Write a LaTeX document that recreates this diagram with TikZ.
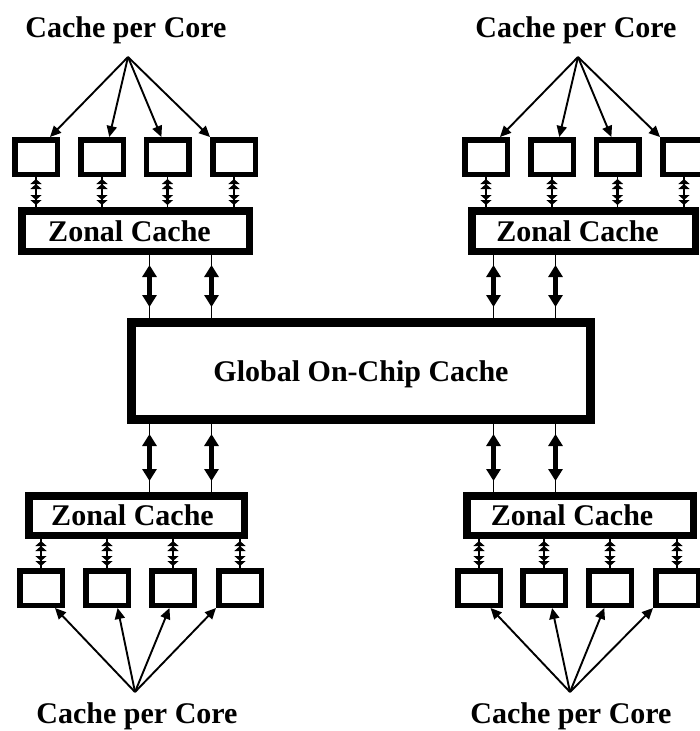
\documentclass[tikz,border=0pt]{standalone}
\usepackage{fontspec}
\setmainfont{Liberation Serif}
\usetikzlibrary{arrows.meta}
\newcommand{\boxfont}{\fontsize{30}{36}\selectfont\bfseries}
\tikzset{
  core/.style={draw, line width=5.5pt, minimum width=42.5pt, minimum height=34.5pt},
  zonal/.style={draw, line width=7.5pt, minimum height=40.5pt, font=\boxfont, text depth=0pt},
  global/.style={draw, line width=9pt, minimum width=459pt, minimum height=97pt, font=\boxfont, text depth=0pt},
  heading/.style={anchor=base, font=\boxfont},
  fan/.style={line width=1.9pt, -{Triangle[length=11pt,width=10pt]}},
  stub/.style={line width=1.2pt},
  port/.style={line width=2.5pt, shorten <=2pt, shorten >=2pt,
    {Triangle[length=5pt,width=11pt] Triangle[length=5pt,width=11pt]}-{Triangle[length=5pt,width=11pt] Triangle[length=5pt,width=11pt]}},
  bus/.style={line width=4.5pt, shorten <=10pt, shorten >=11pt,
    {Triangle[length=12pt,width=14pt]}-{Triangle[length=12pt,width=14pt]}}
}
\begin{document}
\begin{tikzpicture}[x=1pt, y=-1pt, every node/.style={inner sep=0pt}]
    \useasboundingbox (0,0) rectangle (699,731);
    \node[global] (glob) at (361,371) {Global On-Chip Cache};

    % upper left zone
    \node[heading] (tl-h) at (126,37) {Cache per Core};
    \coordinate (tl-a) at (128,57);
    \node[core] (tl-1) at (36,157) {};
    \node[core] (tl-2) at (102,157) {};
    \node[core] (tl-3) at (167.5,157) {};
    \node[core] (tl-4) at (234,157) {};
    \node[zonal, minimum width=227.5pt] (tl-z) at (135.5,231) {Zonal Cache\hspace*{12pt}};

    % upper right zone
    \node[heading] (tr-h) at (576,37) {Cache per Core};
    \coordinate (tr-a) at (578,57);
    \node[core] (tr-1) at (486,157) {};
    \node[core] (tr-2) at (552,157) {};
    \node[core] (tr-3) at (617.5,157) {};
    \node[core] (tr-4) at (684,157) {};
    \node[zonal, minimum width=223.5pt] (tr-z) at (583.5,231) {Zonal Cache\hspace*{12pt}};

    % lower left zone
    \node[zonal, minimum width=215.5pt, minimum height=39.5pt] (bl-z) at (136.5,515.5) {Zonal Cache\hspace*{8pt}};
    \node[core] (bl-1) at (41,588) {};
    \node[core] (bl-2) at (107,588) {};
    \node[core] (bl-3) at (173,588) {};
    \node[core] (bl-4) at (240,588) {};
    \coordinate (bl-a) at (135,692);
    \node[heading] (bl-h) at (137,723) {Cache per Core};

    % lower right zone
    \node[zonal, minimum width=226.5pt, minimum height=39.5pt] (br-z) at (580,515.5) {Zonal Cache\hspace*{16pt}};
    \node[core] (br-1) at (479,588) {};
    \node[core] (br-2) at (544,588) {};
    \node[core] (br-3) at (610,588) {};
    \node[core] (br-4) at (677,588) {};
    \coordinate (br-a) at (570,692);
    \node[heading] (br-h) at (571,723) {Cache per Core};

    % taps on the global cache
    \coordinate (g-n1) at ([xshift=22.5pt]glob.north west);
    \coordinate (g-n2) at ([xshift=84.5pt]glob.north west);
    \coordinate (g-n3) at ([xshift=-101.5pt]glob.north east);
    \coordinate (g-n4) at ([xshift=-39.5pt]glob.north east);
    \coordinate (g-s1) at ([xshift=22.5pt]glob.south west);
    \coordinate (g-s2) at ([xshift=84.5pt]glob.south west);
    \coordinate (g-s3) at ([xshift=-101.5pt]glob.south east);
    \coordinate (g-s4) at ([xshift=-39.5pt]glob.south east);

    \path[fan]
    (tl-a) edge (tl-1.55) edge (tl-2.70) edge (tl-3.107) edge (tl-4.north west)
    (tr-a) edge (tr-1.55) edge (tr-2.70) edge (tr-3.107) edge (tr-4.north west)
    (bl-a) edge (bl-1.-55) edge (bl-2.-62) edge (bl-3.-100) edge (bl-4.south west)
    (br-a) edge (br-1.-60) edge (br-2.-68) edge (br-3.-106) edge (br-4.south west);

    \path
    (tl-1.south) edge[stub] (tl-1.south |- tl-z.north) edge[port] (tl-1.south |- tl-z.north)
    (tl-2.south) edge[stub] (tl-2.south |- tl-z.north) edge[port] (tl-2.south |- tl-z.north)
    (tl-3.south) edge[stub] (tl-3.south |- tl-z.north) edge[port] (tl-3.south |- tl-z.north)
    (tl-4.south) edge[stub] (tl-4.south |- tl-z.north) edge[port] (tl-4.south |- tl-z.north)
    (tr-1.south) edge[stub] (tr-1.south |- tr-z.north) edge[port] (tr-1.south |- tr-z.north)
    (tr-2.south) edge[stub] (tr-2.south |- tr-z.north) edge[port] (tr-2.south |- tr-z.north)
    (tr-3.south) edge[stub] (tr-3.south |- tr-z.north) edge[port] (tr-3.south |- tr-z.north)
    (tr-4.south) edge[stub] (tr-4.south |- tr-z.north) edge[port] (tr-4.south |- tr-z.north)
    (bl-1.north) edge[stub] (bl-1.north |- bl-z.south) edge[port] (bl-1.north |- bl-z.south)
    (bl-2.north) edge[stub] (bl-2.north |- bl-z.south) edge[port] (bl-2.north |- bl-z.south)
    (bl-3.north) edge[stub] (bl-3.north |- bl-z.south) edge[port] (bl-3.north |- bl-z.south)
    (bl-4.north) edge[stub] (bl-4.north |- bl-z.south) edge[port] (bl-4.north |- bl-z.south)
    (br-1.north) edge[stub] (br-1.north |- br-z.south) edge[port] (br-1.north |- br-z.south)
    (br-2.north) edge[stub] (br-2.north |- br-z.south) edge[port] (br-2.north |- br-z.south)
    (br-3.north) edge[stub] (br-3.north |- br-z.south) edge[port] (br-3.north |- br-z.south)
    (br-4.north) edge[stub] (br-4.north |- br-z.south) edge[port] (br-4.north |- br-z.south);

    \path
    (g-n1 |- tl-z.south) edge[stub] (g-n1) edge[bus] (g-n1)
    (g-n2 |- tl-z.south) edge[stub] (g-n2) edge[bus] (g-n2)
    (g-n3 |- tr-z.south) edge[stub] (g-n3) edge[bus] (g-n3)
    (g-n4 |- tr-z.south) edge[stub] (g-n4) edge[bus] (g-n4)
    (g-s1) edge[stub] (g-s1 |- bl-z.north) edge[bus] (g-s1 |- bl-z.north)
    (g-s2) edge[stub] (g-s2 |- bl-z.north) edge[bus] (g-s2 |- bl-z.north)
    (g-s3) edge[stub] (g-s3 |- br-z.north) edge[bus] (g-s3 |- br-z.north)
    (g-s4) edge[stub] (g-s4 |- br-z.north) edge[bus] (g-s4 |- br-z.north);
\end{tikzpicture}
\end{document}
